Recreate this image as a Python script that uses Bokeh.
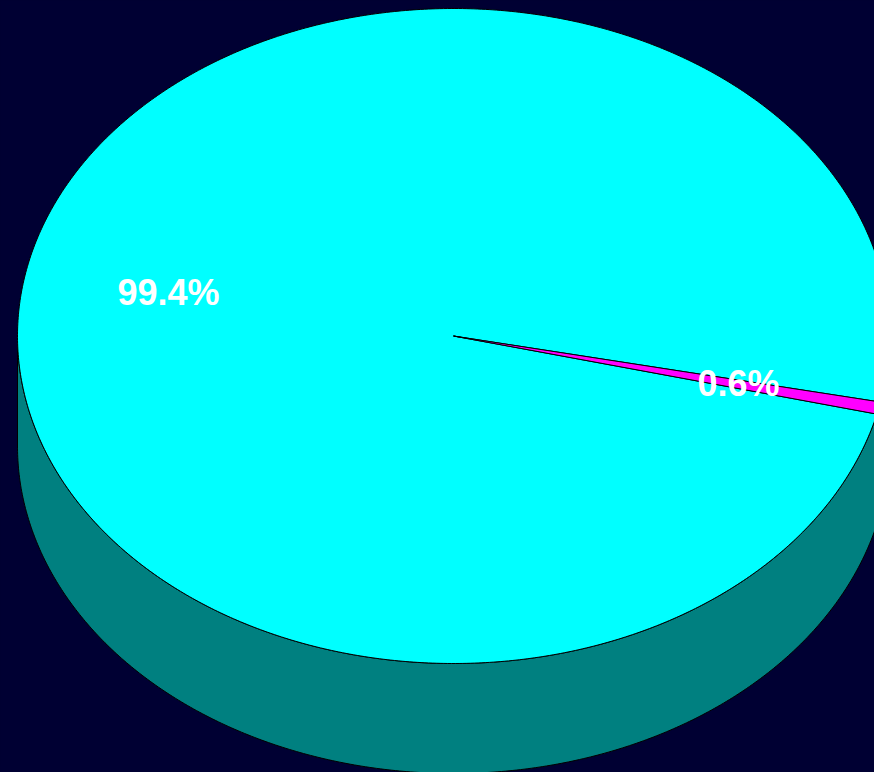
import numpy as np
from bokeh.plotting import figure
from bokeh.models import Range1d, ColumnDataSource
from bokeh.core.properties import value
from bokeh.embed import file_html
from bokeh.resources import INLINE

# Pie data
labels = ["99.4%", "0.6%"]
shares = [99.4, 0.6]
top_colors = ["#00FFFF", "#FF00FF"]
side_colors = ["#008080", "#800080"]

# Geometry of the tilted pie (screen units, y grows downward)
W, H = 874, 772
BG = "#000033"
CX, CY = 453.0, 335.5      # centre of the top face
RX, RY = 436.0, 327.5      # semi-axes of the top face
DEPTH = 110.0              # thickness of the disc
FIRST_ANGLE = -13.8        # degrees; first slice starts here, slices run clockwise
LABEL_RX, LABEL_RY = 0.67, 0.63   # label distance as fractions of the semi-axes


def arc(t0, t1, drop=0.0, n=None):
    if n is None:
        n = max(4, int(abs(t1 - t0) / (np.pi / 360)) + 2)
    t = np.linspace(t0, t1, n)
    return CX + RX * np.cos(t), CY - RY * np.sin(t) + drop


total = float(sum(shares))
sweeps = [2 * np.pi * s / total for s in shares]

top_xs, top_ys, side_xs, side_ys, side_fill = [], [], [], [], []
lab_x, lab_y = [], []

start = np.deg2rad(FIRST_ANGLE)
for i, sw in enumerate(sweeps):
    lo, hi = start - sw, start          # counter-clockwise interval of this slice
    start = lo

    # top face wedge
    ax, ay = arc(hi, lo)
    top_xs.append(np.concatenate([[CX], ax]).tolist())
    top_ys.append(np.concatenate([[CY], ay]).tolist())

    # visible rim: part of the slice on the front (lower) half
    l0 = lo % (2 * np.pi)
    h0 = l0 + sw
    for a0, a1 in ((np.pi, 2 * np.pi), (3 * np.pi, 4 * np.pi)):
        s0, s1 = max(l0, a0), min(h0, a1)
        if s1 > s0:
            ux, uy = arc(s0, s1)
            bx, by = arc(s1, s0, DEPTH)
            side_xs.append(np.concatenate([ux, bx]).tolist())
            side_ys.append(np.concatenate([uy, by]).tolist())
            side_fill.append(side_colors[i])

    mid = (lo + hi) / 2
    lab_x.append(CX + LABEL_RX * RX * np.cos(mid))
    lab_y.append(CY - LABEL_RY * RY * np.sin(mid))

p = figure(width=W, height=H, output_backend="svg", toolbar_location=None,
           x_range=Range1d(0, W), y_range=Range1d(H, 0),
           x_axis_type=None, y_axis_type=None, min_border=0,
           background_fill_color=BG, border_fill_color=BG,
           outline_line_color=None)
p.grid.visible = False

p.patches(xs="xs", ys="ys", fill_color="fill", line_color="black", line_width=1,
          source=ColumnDataSource(dict(xs=side_xs, ys=side_ys, fill=side_fill)))
p.patches(xs="xs", ys="ys", fill_color="fill", line_color="black", line_width=1,
          source=ColumnDataSource(dict(xs=top_xs, ys=top_ys, fill=top_colors)))

p.text(x="x", y="y", text="text", source=ColumnDataSource(dict(x=lab_x, y=lab_y, text=labels)),
       text_font=value("Liberation Sans"), text_font_style="bold", text_font_size="36px",
       text_color="white", text_align="center", text_baseline="middle", y_offset=2)

html = file_html(p, INLINE)
html = html.replace("</head>",
                    "<style>html,body{margin:0;padding:0;background:%s;overflow:hidden;}</style></head>" % BG, 1)
with open("out.html", "w") as f:
    f.write(html)
